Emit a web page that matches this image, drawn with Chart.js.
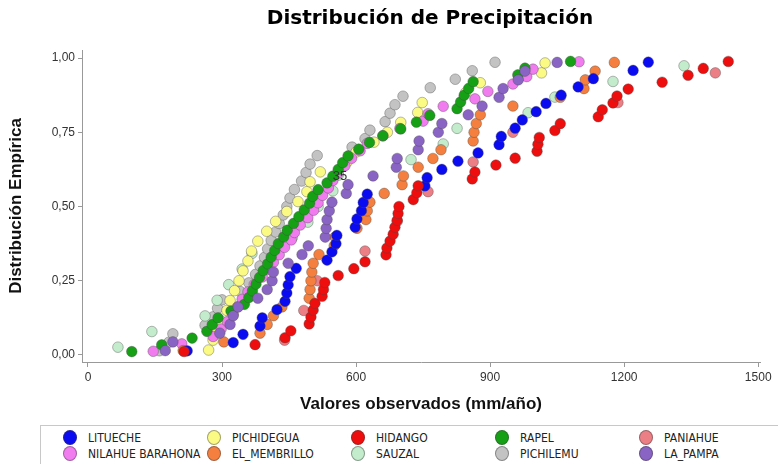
<!DOCTYPE html>
<html>
<head>
<meta charset="utf-8">
<script src="https://cdn.jsdelivr.net/npm/chart.js@4.4.0/dist/chart.umd.min.js"></script>
<style>
body{margin:0;background:#fff;width:778px;height:464px;overflow:hidden;position:relative}
#wrap{position:absolute;left:0;top:0;width:778px;height:420px}
#legend{position:absolute;left:40px;top:425px;width:760px;height:46px;border:1px solid #c8c8c8;box-sizing:border-box}
.it{position:absolute;height:16px;font:12px "Liberation Sans Narrow","DejaVu Sans Condensed",sans-serif;color:#222;white-space:nowrap}
.it i{position:absolute;left:0;top:0;width:14px;height:15px;border-radius:50%;border:1px solid rgba(60,60,60,.45);box-sizing:border-box}
.it span{position:absolute;left:25px;top:1px}
</style>
</head>
<body>
<div id="wrap"><canvas id="c" width="778" height="420"></canvas></div>
<div id="legend"></div>
<script>
const lituecheVals=[222,325,347,385,390,423,441,445,448,452,466,535,546,555,557,598,602,612,616,625,754,759,792,828,873,920,925,956,972,1003,1025,1059,1097,1131,1220,1254];
const pichideguaVals=[270,280,290,296,311,318,328,338,347,358,366,380,400,420,445,470,490,497,520,580,600,640,670,700,738,748,845,878,1015,1023];
const hidangoVals=[215,374,441,454,495,499,504,508,524,527,530,560,595,620,667,669,676,683,687,692,694,696,728,736,739,860,866,913,956,1005,1007,1010,1045,1057,1142,1151,1175,1184,1209,1285,1343,1377,1433];
const rapelVals=[98,165,233,266,278,291,320,350,360,368,376,384,392,402,410,418,426,438,446,460,472,484,496,503,515,535,548,560,570,582,606,630,660,700,735,765,826,834,842,852,862,962,978,1080];
const paniahueVals=[440,483,513,620,692,761,862,951,1186,1404];
const nilahueVals=[146,210,280,298,312,325,335,345,358,372,390,403,415,428,440,455,462,475,492,505,515,525,538,548,560,575,590,609,625,660,698,750,761,795,866,895,951,982,996,1099];
const membrilloVals=[213,304,385,401,415,434,495,497,499,501,504,517,551,553,602,622,625,631,663,703,706,739,772,790,862,864,869,878,951,1057,1110,1113,1135,1178];
const sauzalVals=[67,143,262,289,315,345,367,457,492,515,548,560,723,795,826,985,1045,1175,1334];
const pichilemuVals=[160,181,190,262,280,290,300,340,360,375,385,395,402,410,420,428,437,445,452,462,478,488,497,513,591,620,631,665,676,687,705,766,822,860,911];
const lapampaVals=[173,190,295,318,325,336,380,401,412,415,448,479,493,531,533,535,540,546,578,582,638,690,692,739,741,784,792,851,882,920,929,963,978,1050];

const stations=['LITUECHE','PICHIDEGUA','HIDANGO','RAPEL','PANIAHUE','NILAHUE BARAHONA','EL_MEMBRILLO','SAUZAL','PICHILEMU','LA_PAMPA'];
const values=[lituecheVals,pichideguaVals,hidangoVals,rapelVals,paniahueVals,nilahueVals,membrilloVals,sauzalVals,pichilemuVals,lapampaVals];
const colors=['#0b0bf2','#fafa85','#ee0e0e','#16a016','#ec7f86','#f07cf0','#f47f3e','#c2eccb','#c3c3c3','#8a64c4'];
// which one is painted on top (lower = on top)
const drawOrder=[2,6,0,4,9,5,3,7,8,1];

const xTicks=[0,300,600,900,1200,1500];
const yTicks=[0,0.25,0.5,0.75,1];
const titleText='Distribución de Precipitación';
const note={text:'35',x:564,y:0.6};

// empirical distribution: sorted value vs plotting position (i-0.5)/n
function ecdf(vals){
  const s=vals.slice().sort((a,b)=>a-b);
  return s.map((v,i)=>({x:v,y:(i+0.5)/s.length}));
}

Chart.defaults.font.family='"Liberation Sans", Arial, sans-serif';

const ds=stations.map((n,k)=>({
  label:n,
  data:ecdf(values[k]),
  backgroundColor:colors[k],
  borderColor:'rgba(70,70,70,0.55)',
  pointBorderWidth:0.7,
  pointRadius:5.3,
  order:drawOrder[k]
}));

const textplug={id:'texts',afterDraw(c){
  const ctx=c.ctx;ctx.save();
  ctx.textAlign='center';ctx.textBaseline='middle';
  ctx.font='bold 20px "DejaVu Sans", sans-serif';ctx.fillStyle='#000';
  ctx.fillText(titleText,430,19);
  ctx.font='13px "Liberation Sans", Arial';ctx.fillStyle='#333';
  ctx.fillText(note.text,c.scales.x.getPixelForValue(note.x),c.scales.y.getPixelForValue(note.y));
  ctx.restore();
}};

new Chart(document.getElementById('c'),{
  type:'scatter',
  data:{datasets:ds},
  options:{
    responsive:false,animation:false,devicePixelRatio:1,
    layout:{padding:{left:0,right:18,top:50,bottom:0}},
    plugins:{
      legend:{display:false},
      tooltip:{enabled:false},
      title:{display:false}
    },
    scales:{
      x:{type:'linear',min:-13.4,max:1504,
        afterBuildTicks:s=>{s.ticks=xTicks.map(v=>({value:v}))},
        afterFit:s=>{s.height=58},
        grid:{drawOnChartArea:false,tickLength:5,color:'#999'},
        border:{color:'#999'},
        ticks:{font:{size:12},color:'#333',padding:3,maxRotation:0,callback:v=>String(v)},
        title:{display:true,text:'Valores observados (mm/año)',color:'#111',
          font:{size:17,weight:'bold'},padding:{top:0,bottom:5}}
      },
      y:{type:'linear',min:-0.0236,max:1.027,
        afterBuildTicks:s=>{s.ticks=yTicks.map(v=>({value:v}))},
        afterFit:s=>{s.width=82},
        grid:{drawOnChartArea:false,tickLength:4,color:'#999'},
        border:{color:'#999'},
        ticks:{font:{size:12},color:'#333',padding:3,callback:v=>v.toFixed(2).replace('.',',')},
        title:{display:true,text:'Distribución Empírica',color:'#111',
          font:{size:17,weight:'bold'},padding:{top:6,bottom:4}}
      }
    }
  },
  plugins:[textplug]
});

// legend box, 5 columns x 2 rows
const lg=document.getElementById('legend');
stations.forEach((n,k)=>{
  const d=document.createElement('div');
  d.className='it';
  d.style.left=(22+144*(k%5))+'px';
  d.style.top=(4+16*Math.floor(k/5))+'px';
  d.innerHTML='<i style="background:'+colors[k]+'"></i><span>'+n+'</span>';
  lg.appendChild(d);
});
</script>
</body>
</html>
